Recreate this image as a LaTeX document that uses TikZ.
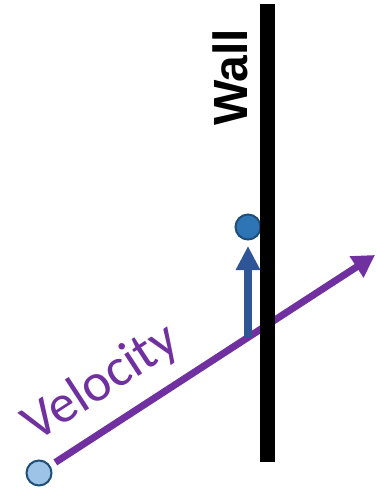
\documentclass[tikz,border=0pt]{standalone}
\usepackage{fontspec}
\setmainfont{Carlito}
\newfontfamily\wallfont{Liberation Sans}
\usepackage{tikz}
\usetikzlibrary{arrows.meta, positioning, calc}
\usepackage{xcolor}
\definecolor{velpurple}{RGB}{112,48,160}
\definecolor{pushblue}{RGB}{47,85,151}
\definecolor{balledge}{RGB}{31,78,121}
\definecolor{ballfill}{RGB}{46,117,182}
\definecolor{ghostfill}{RGB}{157,195,230}

\begin{document}
\begin{tikzpicture}[
    x=1pt, y=-1pt,
    ball/.style={circle, draw=balledge, line width=2pt, minimum size=25pt, inner sep=0pt},
    wallline/.style={line width=15pt, black},
    velarr/.style={-{Triangle[length=22pt, width=24pt]}, line width=7pt, velpurple},
    pusharr/.style={-{Triangle[length=24pt, width=23pt]}, line width=8pt, pushblue},
]
    \useasboundingbox (0,0) rectangle (376,488);

    % Balls
    \node[ball, fill=ghostfill] (start) at (39,473) {};
    \node[ball, fill=ballfill] (hitball) at (248,227) {};

    % Wall ends and contact point
    \coordinate (walltop) at (267.5,4);
    \coordinate (wallbot) at (267.5,462);
    \coordinate (veltip) at (375,255);
    \coordinate (contact) at (248,337);

    % Velocity
    \draw[velarr, shorten <=6pt] (start) -- (veltip);
    \node[anchor=base west, rotate=33, text=velpurple, font=\fontsize{54}{54}\selectfont, inner sep=0pt] (vellabel) at (36,443) {Velocity};

    % Wall
    \draw[wallline] (walltop) -- (wallbot);
    \node[anchor=base west, rotate=90, font=\wallfont\bfseries\fontsize{48}{48}\selectfont, inner sep=0pt] (walllabel) at (247,126) {Wall};

    % Push
    \draw[pusharr, shorten >=5.5pt] (contact) -- (hitball);
\end{tikzpicture}
\end{document}
